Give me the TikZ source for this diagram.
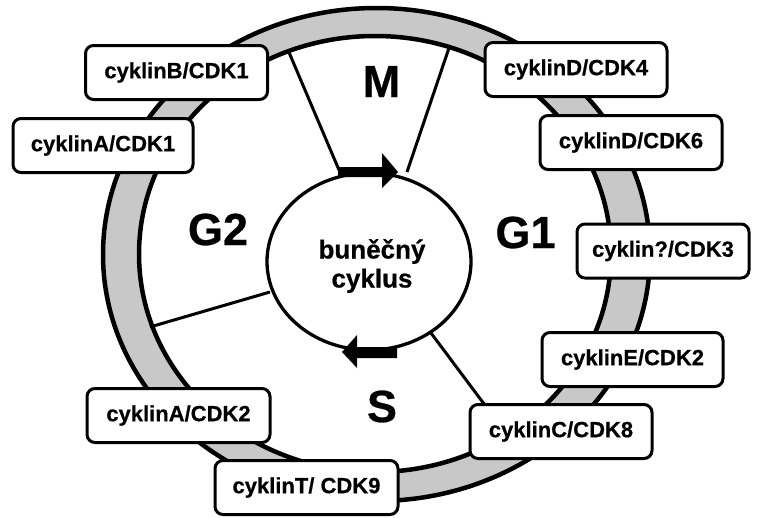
\documentclass[tikz,border=0pt]{standalone}
\usepackage{fontspec}
\setmainfont{Liberation Sans}[BoldFeatures={FakeBold=0.6}]
\usetikzlibrary{shapes.geometric}
\definecolor{ringgray}{HTML}{C8C8C8}
\tikzset{
  kinase/.style={draw=black, fill=white, line width=3pt, rounded corners=8pt,
    minimum height=54pt, inner sep=0pt,
    font=\fontsize{22}{26}\selectfont\bfseries},
  phase/.style={font=\fontsize{45}{50}\selectfont\bfseries, anchor=base, inner sep=0pt},
  divider/.style={line width=3pt, black},
  ringline/.style={line width=4.5pt, black},
  cyclearrow/.style={fill=black}
}
\begin{document}
\begin{tikzpicture}[x=1pt,y=-1pt]
\useasboundingbox[fill=white] (0,0) rectangle (757,517);

% outer gray ring
\fill[ringgray, even odd rule]
  (376.5,254.5) ellipse [x radius=273.5pt, y radius=246.5pt]
  (375,254) ellipse [x radius=236pt, y radius=218pt];
\draw[ringline] (376.5,254.5) ellipse [x radius=273.5pt, y radius=246.5pt];
\draw[ringline] (375,254) ellipse [x radius=236pt, y radius=218pt];

% phase dividers
\coordinate (mLo) at (288,50);
\coordinate (mLi) at (339,170);
\coordinate (mRo) at (450,45);
\coordinate (mRi) at (407,172);
\coordinate (g2o) at (150,327);
\coordinate (g2i) at (270,292);
\coordinate (si) at (431,333);
\coordinate (so) at (505,432);
\draw[divider] (mLo) -- (mLi);
\draw[divider] (mRo) -- (mRi);
\draw[divider] (g2o) -- (g2i);
\draw[divider] (si) -- (so);

% central circle
\node[draw=black, fill=white, line width=3.3pt, ellipse, minimum width=204pt,
  minimum height=177pt, inner sep=0pt] (cycle) at (369,261.5) {};
\node[font=\fontsize{26}{29}\selectfont\bfseries, align=center, inner sep=0pt]
  (cyclelabel) at (372,266) {buněčný\\cyklus};

% direction arrows on the circle
\fill[cyclearrow] (338,167) -- (382,167) -- (382,153) -- (398,172) -- (382,188)
  -- (382,177) -- (338,177) -- cycle;
\fill[cyclearrow] (397,347) -- (357,347) -- (357,335) -- (342,352) -- (357,368)
  -- (357,358) -- (397,358) -- cycle;

% phase labels
\node[phase] (M) at (381.5,97) {M};
\node[phase] (G2) at (218,245) {G2};
\node[phase] (G1) at (525.5,248) {G1};
\node[phase] (S) at (382,422) {S};

% cyclin/CDK complexes
\node[kinase, minimum width=182pt] (bcdk1) at (176.5,72.5) {cyklinB/CDK1};
\node[kinase, minimum width=180pt] (acdk1) at (103,145.5) {cyklinA/CDK1};
\node[kinase, minimum width=182pt] (dcdk4) at (576,69.5) {cyklinD/CDK4};
\node[kinase, minimum width=182pt] (dcdk6) at (631,142.5) {cyklinD/CDK6};
\node[kinase, minimum width=172pt] (qcdk3) at (663,251) {cyklin?/CDK3};
\node[kinase, minimum width=181pt] (ecdk2) at (632.5,359.5) {cyklinE/CDK2};
\node[kinase, minimum width=182pt] (ccdk8) at (561,431.5) {cyklinC/CDK8};
\node[kinase, minimum width=183pt] (acdk2) at (178.5,415.5) {cyklinA/CDK2};
\node[kinase, minimum width=183pt] (tcdk9) at (306.5,487.5) {cyklinT/ CDK9};
\end{tikzpicture}
\end{document}
